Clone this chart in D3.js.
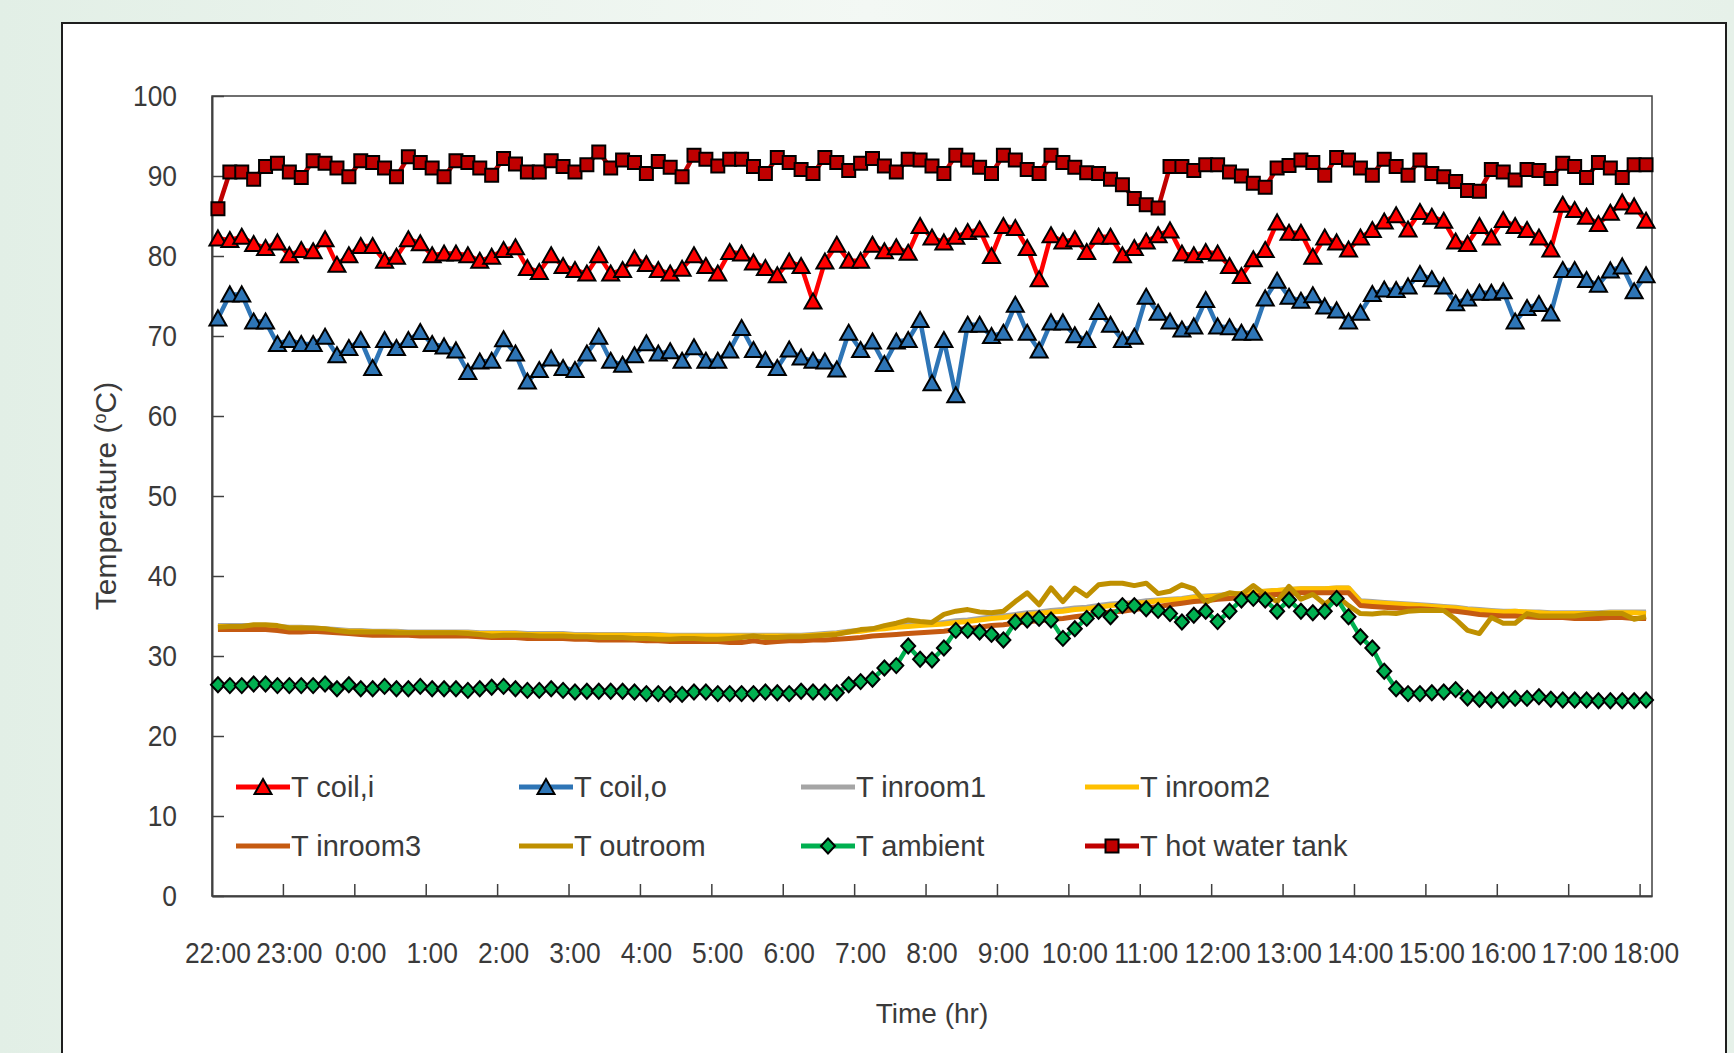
<!DOCTYPE html>
<html>
<head>
<meta charset="utf-8">
<script src="https://cdn.jsdelivr.net/npm/d3@7"></script>
<style>
  html, body { margin: 0; padding: 0; }
  body { width: 1734px; height: 1053px; overflow: hidden; background: #eef6f0; }
  svg { display: block; }
</style>
</head>
<body>
<svg id="chart" width="1734" height="1053"></svg>
<script>
// 10-minute readings from 22:00 to 18:00 (121 samples)
const categories = d3.range(121).map(i => {
  const m = 22 * 60 + i * 10;
  return `${Math.floor(m / 60) % 24}:${String(m % 60).padStart(2, "0")}`;
});

const tickLabels = ["22:00","23:00","0:00","1:00","2:00","3:00","4:00","5:00","6:00","7:00",
  "8:00","9:00","10:00","11:00","12:00","13:00","14:00","15:00","16:00","17:00","18:00"];

const yTicks = [0, 10, 20, 30, 40, 50, 60, 70, 80, 90, 100];

const tCoilIn = [
  82.2, 82.0, 82.4, 81.5, 81.0, 81.7, 80.1, 80.75, 80.6, 82.1, 78.9, 80.1, 81.25, 81.25, 79.4, 79.9, 82.1, 81.6, 80.1, 80.3,
  80.3, 80.1, 79.4, 79.9, 80.75, 81.1, 78.5, 78.0, 80.1, 78.75, 78.25, 77.8, 80.1, 77.8, 78.25, 79.7, 79.0, 78.25, 77.8, 78.4,
  80.1, 78.75, 77.8, 80.5, 80.3, 79.2, 78.5, 77.6, 79.3, 78.75, 74.3, 79.3, 81.4, 79.4, 79.4, 81.4, 80.6, 81.1, 80.4, 83.75,
  82.3, 81.7, 82.4, 83.0, 83.3, 80.0, 83.75, 83.5, 81.0, 77.1, 82.6, 81.8, 82.1, 80.5, 82.4, 82.4, 80.1, 81.0, 81.8, 82.6,
  83.2, 80.3, 80.1, 80.5, 80.3, 78.75, 77.5, 79.6, 80.75, 84.2, 82.9, 82.9, 79.9, 82.3, 81.7, 80.8, 82.3, 83.25, 84.3, 85.1,
  83.3, 85.5, 84.9, 84.4, 81.8, 81.5, 83.75, 82.3, 84.5, 83.75, 83.25, 82.3, 80.8, 86.4, 85.75, 84.9, 84.0, 85.4, 86.7, 86.2,
  84.4
];

const tCoilOut = [
  72.2, 75.2, 75.2, 71.8, 71.8, 69.0, 69.5, 69.0, 69.0, 69.9, 67.6, 68.5, 69.5, 66.0, 69.5, 68.5, 69.5, 70.5, 69.0, 68.7,
  68.2, 65.5, 66.8, 66.9, 69.6, 67.8, 64.3, 65.75, 67.2, 66.0, 65.75, 67.8, 69.9, 66.9, 66.4, 67.6, 69.1, 67.8, 68.1, 66.9,
  68.6, 66.9, 66.9, 68.2, 71.0, 68.25, 67.0, 66.0, 68.3, 67.3, 66.9, 66.8, 65.8, 70.4, 68.25, 69.3, 66.5, 69.3, 69.5, 72.0,
  64.1, 69.5, 62.6, 71.4, 71.4, 70.0, 70.4, 73.9, 70.4, 68.2, 71.7, 71.7, 70.1, 69.5, 73.0, 71.4, 69.5, 69.9, 74.9, 72.9,
  71.8, 70.8, 71.2, 74.5, 71.2, 71.1, 70.4, 70.4, 74.7, 76.9, 74.9, 74.4, 75.1, 73.7, 73.2, 71.8, 72.9, 75.25, 75.8, 75.75,
  76.2, 77.75, 77.1, 76.2, 74.1, 74.7, 75.4, 75.4, 75.6, 71.8, 73.5, 74.0, 72.8, 78.25, 78.25, 77.0, 76.4, 78.2, 78.7, 75.6,
  77.6
];

const tInroom1 = [
  33.8, 33.8, 33.8, 33.8, 33.8, 33.7, 33.6, 33.6, 33.5, 33.4, 33.3, 33.2, 33.2, 33.1, 33.1, 33.1, 33.0, 33.0, 33.0, 33.0,
  33.0, 33.0, 32.9, 32.9, 32.9, 32.9, 32.8, 32.8, 32.8, 32.8, 32.7, 32.7, 32.7, 32.7, 32.7, 32.7, 32.7, 32.7, 32.6, 32.6,
  32.6, 32.6, 32.6, 32.6, 32.6, 32.6, 32.6, 32.6, 32.6, 32.6, 32.7, 32.8, 32.9, 33.1, 33.2, 33.4, 33.6, 33.7, 33.9, 34.0,
  34.0, 34.2, 34.4, 34.5, 34.7, 34.9, 35.0, 35.2, 35.4, 35.5, 35.7, 35.8, 36.0, 36.1, 36.3, 36.5, 36.6, 36.7, 36.9, 37.0,
  37.1, 37.2, 37.4, 37.5, 37.6, 37.7, 37.8, 38.0, 38.1, 38.2, 38.3, 38.4, 38.4, 38.4, 38.5, 38.5, 36.9, 36.8, 36.7, 36.6,
  36.5, 36.4, 36.3, 36.2, 36.1, 35.9, 35.8, 35.7, 35.6, 35.6, 35.5, 35.5, 35.4, 35.4, 35.4, 35.4, 35.4, 35.5, 35.5, 35.5,
  35.5
];

const tInroom2 = [
  33.7, 33.7, 33.7, 33.7, 33.7, 33.6, 33.5, 33.5, 33.4, 33.3, 33.2, 33.1, 33.1, 33.0, 33.0, 33.0, 32.9, 32.9, 32.9, 32.9,
  32.9, 32.9, 32.8, 32.8, 32.8, 32.8, 32.7, 32.7, 32.7, 32.7, 32.6, 32.6, 32.6, 32.6, 32.6, 32.6, 32.6, 32.6, 32.5, 32.5,
  32.5, 32.5, 32.5, 32.5, 32.5, 32.5, 32.5, 32.5, 32.5, 32.5, 32.6, 32.7, 32.8, 33.0, 33.1, 33.3, 33.4, 33.6, 33.7, 33.8,
  33.9, 34.0, 34.2, 34.3, 34.5, 34.7, 34.8, 35.0, 35.2, 35.3, 35.5, 35.6, 35.8, 35.9, 36.1, 36.3, 36.4, 36.6, 36.7, 36.9,
  37.0, 37.1, 37.3, 37.4, 37.5, 37.7, 37.8, 38.0, 38.1, 38.2, 38.3, 38.4, 38.4, 38.4, 38.5, 38.5, 36.8, 36.7, 36.6, 36.5,
  36.4, 36.3, 36.2, 36.1, 36.0, 35.8, 35.7, 35.6, 35.5, 35.6, 35.5, 35.4, 35.3, 35.3, 35.3, 35.3, 35.3, 35.4, 35.4, 35.4,
  35.3
];

const tInroom3 = [
  33.3, 33.3, 33.3, 33.3, 33.3, 33.2, 33.0, 33.0, 33.1, 33.0, 32.9, 32.8, 32.7, 32.6, 32.6, 32.6, 32.6, 32.5, 32.5, 32.5,
  32.5, 32.5, 32.4, 32.3, 32.3, 32.3, 32.2, 32.2, 32.2, 32.2, 32.1, 32.1, 32.0, 32.0, 32.0, 32.0, 31.9, 31.9, 31.8, 31.8,
  31.8, 31.8, 31.8, 31.7, 31.7, 31.9, 31.7, 31.8, 31.9, 31.9, 32.0, 32.0, 32.1, 32.2, 32.3, 32.5, 32.6, 32.7, 32.8, 32.9,
  33.0, 33.1, 33.3, 33.4, 33.6, 33.8, 33.9, 34.1, 34.3, 34.4, 34.6, 34.7, 34.9, 35.1, 35.3, 35.5, 35.6, 35.8, 36.0, 36.2,
  36.4, 36.6, 36.8, 36.9, 37.1, 37.2, 37.3, 37.5, 37.6, 37.7, 37.8, 37.9, 37.9, 37.9, 37.9, 37.9, 36.3, 36.2, 36.1, 36.0,
  35.9, 35.9, 35.8, 35.7, 35.6, 35.4, 35.2, 35.1, 35.0, 35.0, 34.9, 34.8, 34.8, 34.8, 34.7, 34.7, 34.7, 34.8, 34.8, 34.7,
  34.7
];

const tOutroom = [
  33.6, 33.7, 33.7, 33.9, 33.9, 33.8, 33.5, 33.5, 33.5, 33.4, 33.2, 33.0, 33.0, 33.0, 33.0, 32.9, 32.9, 32.9, 32.9, 32.9,
  32.9, 32.8, 32.7, 32.5, 32.6, 32.6, 32.6, 32.5, 32.5, 32.5, 32.4, 32.4, 32.3, 32.3, 32.3, 32.2, 32.2, 32.1, 32.1, 32.2,
  32.2, 32.1, 32.1, 32.2, 32.3, 32.5, 32.3, 32.3, 32.4, 32.4, 32.5, 32.6, 32.7, 33.0, 33.3, 33.4, 33.8, 34.1, 34.5, 34.3,
  34.2, 35.2, 35.6, 35.8, 35.5, 35.4, 35.6, 36.8, 37.9, 36.4, 38.5, 36.8, 38.5, 37.5, 38.9, 39.1, 39.1, 38.8, 39.1, 37.8,
  38.1, 38.9, 38.4, 36.7, 37.4, 37.9, 37.7, 38.8, 37.7, 36.8, 38.7, 37.1, 37.7, 36.5, 37.5, 36.3, 35.3, 35.25, 35.4, 35.3,
  35.6, 35.7, 35.7, 35.7, 34.6, 33.2, 32.8, 34.8, 34.1, 34.1, 35.3, 35.0, 35.0, 35.0, 35.0, 35.2, 35.3, 35.3, 35.3, 34.6,
  34.9
];

const tAmbient = [
  26.4, 26.3, 26.3, 26.5, 26.5, 26.3, 26.3, 26.3, 26.3, 26.5, 25.9, 26.4, 25.9, 25.9, 26.2, 25.9, 25.9, 26.2, 25.9, 25.9,
  25.9, 25.7, 25.9, 26.1, 26.2, 25.9, 25.7, 25.7, 25.9, 25.7, 25.5, 25.6, 25.6, 25.6, 25.6, 25.5, 25.3, 25.3, 25.2, 25.2,
  25.5, 25.5, 25.3, 25.3, 25.3, 25.3, 25.5, 25.4, 25.3, 25.6, 25.5, 25.5, 25.4, 26.4, 26.8, 27.1, 28.5, 28.8, 31.25, 29.6,
  29.5, 31.0, 33.2, 33.2, 33.0, 32.7, 32.0, 34.25, 34.5, 34.7, 34.5, 32.2, 33.4, 34.7, 35.6, 34.9, 36.3, 36.3, 35.9, 35.7,
  35.3, 34.25, 35.1, 35.6, 34.3, 35.6, 37.0, 37.2, 37.0, 35.6, 37.0, 35.6, 35.4, 35.6, 37.2, 34.9, 32.4, 31.0, 28.1, 25.9,
  25.3, 25.3, 25.4, 25.5, 25.8, 24.75, 24.6, 24.5, 24.5, 24.7, 24.7, 24.9, 24.6, 24.5, 24.5, 24.5, 24.4, 24.4, 24.4, 24.4,
  24.5
];

const tHotWater = [
  85.9, 90.5, 90.5, 89.6, 91.2, 91.6, 90.5, 89.8, 91.9, 91.6, 91.0, 89.9, 91.9, 91.7, 91.0, 89.9, 92.4, 91.7, 91.0, 89.9,
  91.9, 91.7, 91.0, 90.1, 92.2, 91.5, 90.5, 90.5, 91.9, 91.2, 90.5, 91.4, 93.0, 91.0, 92.0, 91.7, 90.3, 91.8, 91.1, 89.9,
  92.6, 92.1, 91.25, 92.1, 92.1, 91.2, 90.3, 92.3, 91.7, 90.8, 90.3, 92.3, 91.7, 90.7, 91.6, 92.2, 91.25, 90.5, 92.1, 92.0,
  91.25, 90.3, 92.6, 92.0, 91.1, 90.3, 92.6, 92.0, 90.8, 90.3, 92.6, 91.7, 91.1, 90.4, 90.3, 89.6, 88.9, 87.2, 86.4, 86.0,
  91.2, 91.2, 90.7, 91.4, 91.4, 90.5, 90.0, 89.1, 88.6, 91.0, 91.3, 92.0, 91.7, 90.1, 92.3, 92.0, 91.0, 90.1, 92.1, 91.2,
  90.1, 92.0, 90.3, 89.9, 89.3, 88.2, 88.1, 90.8, 90.5, 89.5, 90.8, 90.7, 89.7, 91.6, 91.2, 89.8, 91.7, 91.0, 89.8, 91.4,
  91.4
];

// series in drawing order; legend is laid out in two rows of four
const series = [
  { name: "T coil,i",         values: tCoilIn,   color: "#FF0000", marker: "triangle" },
  { name: "T coil,o",         values: tCoilOut,  color: "#2E75B6", marker: "triangle" },
  { name: "T inroom1",        values: tInroom1,  color: "#A5A5A5", marker: null },
  { name: "T inroom2",        values: tInroom2,  color: "#FFC000", marker: null },
  { name: "T inroom3",        values: tInroom3,  color: "#C55A11", marker: null },
  { name: "T outroom",        values: tOutroom,  color: "#BF9000", marker: null },
  { name: "T ambient",        values: tAmbient,  color: "#00B050", marker: "diamond" },
  { name: "T hot water tank", values: tHotWater, color: "#C00000", marker: "square" }
];

const svg = d3.select("#chart");
const W = 1734, H = 1053;

// page backdrop and the white card
const defs = svg.append("defs");
const bg = defs.append("linearGradient").attr("id", "bg").attr("x1", 0).attr("y1", 0).attr("x2", 1).attr("y2", 0);
bg.append("stop").attr("offset", 0).attr("stop-color", "#e2efe6");
bg.append("stop").attr("offset", 0.5).attr("stop-color", "#f3f8f4");
bg.append("stop").attr("offset", 1).attr("stop-color", "#e6f1e9");
svg.append("rect").attr("width", W).attr("height", H).attr("fill", "url(#bg)");
svg.append("rect").attr("x", 62).attr("y", 23).attr("width", 1664).attr("height", 1040)
  .attr("fill", "#ffffff").attr("stroke", "#1e1e1e").attr("stroke-width", 2);

const plot = { left: 212, right: 1652, top: 96, bottom: 896 };

const x = d3.scaleBand().domain(categories).range([plot.left, plot.right]).padding(0);
const bw = x.bandwidth();
const cx = i => x(categories[i]) + bw / 2;
const y = d3.scaleLinear().domain([0, 100]).range([plot.bottom, plot.top]);

const textFont = "'Liberation Sans', Arial, sans-serif";
const textColor = "#3a3a3a";
const tickSize = 30, tickSquash = 0.88;   // tall, slightly condensed tick numerals

// plot frame
svg.append("rect")
  .attr("x", plot.left).attr("y", plot.top)
  .attr("width", plot.right - plot.left).attr("height", plot.bottom - plot.top)
  .attr("fill", "none").attr("stroke", "#404040").attr("stroke-width", 1.5);

// y axis, ticks pointing inward
const yAxis = svg.append("g").attr("transform", `translate(${plot.left},0)`)
  .call(d3.axisLeft(y).tickValues(yTicks).tickSizeInner(-12).tickSizeOuter(0).tickPadding(0));
yAxis.select(".domain").attr("stroke", "#404040").attr("stroke-width", 2);
yAxis.selectAll(".tick line").attr("stroke", "#404040").attr("stroke-width", 1.5);
yAxis.selectAll(".tick text")
  .attr("x", 0)
  .attr("transform", `translate(-35,0) scale(${tickSquash},1)`)
  .attr("font-family", textFont).attr("font-size", tickSize).attr("fill", textColor);

// x axis: labels centred on hourly samples, tick marks on category boundaries
const xAxis = svg.append("g").attr("transform", `translate(0,${plot.bottom})`)
  .call(d3.axisBottom(x).tickValues(tickLabels).tickSize(0).tickPadding(46));
xAxis.select(".domain").attr("stroke", "#404040").attr("stroke-width", 2);
xAxis.selectAll(".tick text")
  .attr("transform", `scale(${tickSquash},1)`)
  .attr("font-family", textFont).attr("font-size", tickSize).attr("fill", textColor);
xAxis.selectAll(".bound")
  .data(d3.range(1, tickLabels.length))
  .join("line")
  .attr("class", "bound")
  .attr("x1", k => x(categories[k * 6])).attr("x2", k => x(categories[k * 6]))
  .attr("y1", 0).attr("y2", -12)
  .attr("stroke", "#404040").attr("stroke-width", 1.5);

// axis titles
svg.append("text")
  .attr("x", (plot.left + plot.right) / 2).attr("y", 1013)
  .attr("text-anchor", "middle").attr("dy", "0.35em")
  .attr("font-family", textFont).attr("font-size", 28).attr("fill", textColor)
  .text("Time (hr)");

const yTitle = svg.append("text")
  .attr("transform", `translate(105,${(plot.top + plot.bottom) / 2}) rotate(-90)`)
  .attr("text-anchor", "middle").attr("dy", "0.35em")
  .attr("font-family", textFont).attr("font-size", 30).attr("fill", textColor);
yTitle.append("tspan").text("Temperature (");
yTitle.append("tspan").attr("font-size", 18).attr("baseline-shift", "super").text("o");
yTitle.append("tspan").text("C)");

// marker shapes
function markerPath(type) {
  if (type === "triangle") return "M0,-8 L8.5,7 L-8.5,7 Z";
  if (type === "diamond") return "M0,-7.5 L7,0 L0,7.5 L-7,0 Z";
  if (type === "square") return "M-6.5,-6.5 H6.5 V6.5 H-6.5 Z";
  return null;
}

const line = d3.line().x((d, i) => cx(i)).y(d => y(d));

const layer = svg.append("g");
series.forEach(s => {
  const g = layer.append("g");
  g.append("path")
    .datum(s.values)
    .attr("d", line)
    .attr("fill", "none")
    .attr("stroke", s.color)
    .attr("stroke-width", s.marker ? 4.5 : 5)
    .attr("stroke-linejoin", "round");
  if (s.marker) {
    g.selectAll("path.mk")
      .data(s.values)
      .join("path")
      .attr("class", "mk")
      .attr("d", markerPath(s.marker))
      .attr("transform", (d, i) => `translate(${cx(i)},${y(d)})`)
      .attr("fill", s.color)
      .attr("stroke", "#000")
      .attr("stroke-width", 2)
      .attr("stroke-linejoin", "miter");
  }
});

// legend
const legendCols = [236, 519, 801, 1085];
const legendRows = [787, 846];
const legend = svg.append("g");
series.forEach((s, k) => {
  const lx = legendCols[k % 4], ly = legendRows[Math.floor(k / 4)];
  const g = legend.append("g").attr("transform", `translate(${lx},${ly})`);
  g.append("line").attr("x1", 0).attr("x2", 54).attr("y1", 0).attr("y2", 0)
    .attr("stroke", s.color).attr("stroke-width", 5);
  if (s.marker) {
    g.append("path").attr("d", markerPath(s.marker)).attr("transform", "translate(27,0)")
      .attr("fill", s.color).attr("stroke", "#000").attr("stroke-width", 2);
  }
  g.append("text").attr("x", 55).attr("dy", "0.35em")
    .attr("font-family", textFont).attr("font-size", 29).attr("fill", textColor)
    .text(s.name);
});
</script>
</body>
</html>
